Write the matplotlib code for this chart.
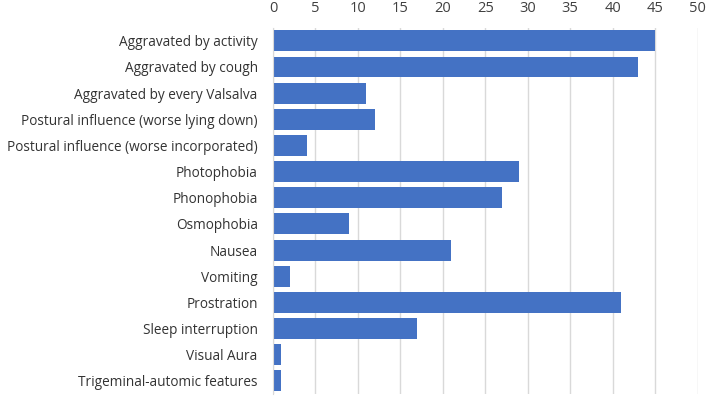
import numpy as np
import matplotlib.pyplot as plt

categories = [
    "Aggravated by activity",
    "Aggravated by cough",
    "Aggravated by every Valsalva",
    "Postural influence (worse lying down)",
    "Postural influence (worse incorporated)",
    "Photophobia",
    "Phonophobia",
    "Osmophobia",
    "Nausea",
    "Vomiting",
    "Prostration",
    "Sleep interruption",
    "Visual Aura",
    "Trigeminal-automic features",
]
values = [45, 43, 11, 12, 4, 29, 27, 9, 21, 2, 41, 17, 1, 1]
xticks = list(range(0, 55, 5))

plt.rcParams['font.family'] = ['Open Sans', 'DejaVu Sans']

fig = plt.figure(figsize=(7.09, 3.96), dpi=100)
ax = fig.add_axes([0.385, 0.005, 0.599, 0.925])

y = np.arange(len(categories))
ax.barh(y, values, height=0.8, color='#4472C4', zorder=3)

ax.set_xlim(0, 50)
ax.set_ylim(len(categories) - 0.5, -0.5)
ax.set_yticks(y)
ax.set_yticklabels(categories, fontsize=9.85, color='#333333')
ax.set_xticks(xticks)
ax.set_xticklabels([str(t) for t in xticks], fontsize=10.5, color='#404040')
ax.xaxis.tick_top()
ax.tick_params(axis='both', length=0)
ax.tick_params(axis='x', pad=8.5)
ax.tick_params(axis='y', pad=11)
ax.grid(axis='x', color='#D9D9D9', linewidth=1, zorder=0)
for s in ['top', 'right', 'bottom']:
    ax.spines[s].set_visible(False)
ax.spines['left'].set_color('#D9D9D9')
ax.spines['left'].set_zorder(4)

fig.savefig('out.png', dpi=100)
